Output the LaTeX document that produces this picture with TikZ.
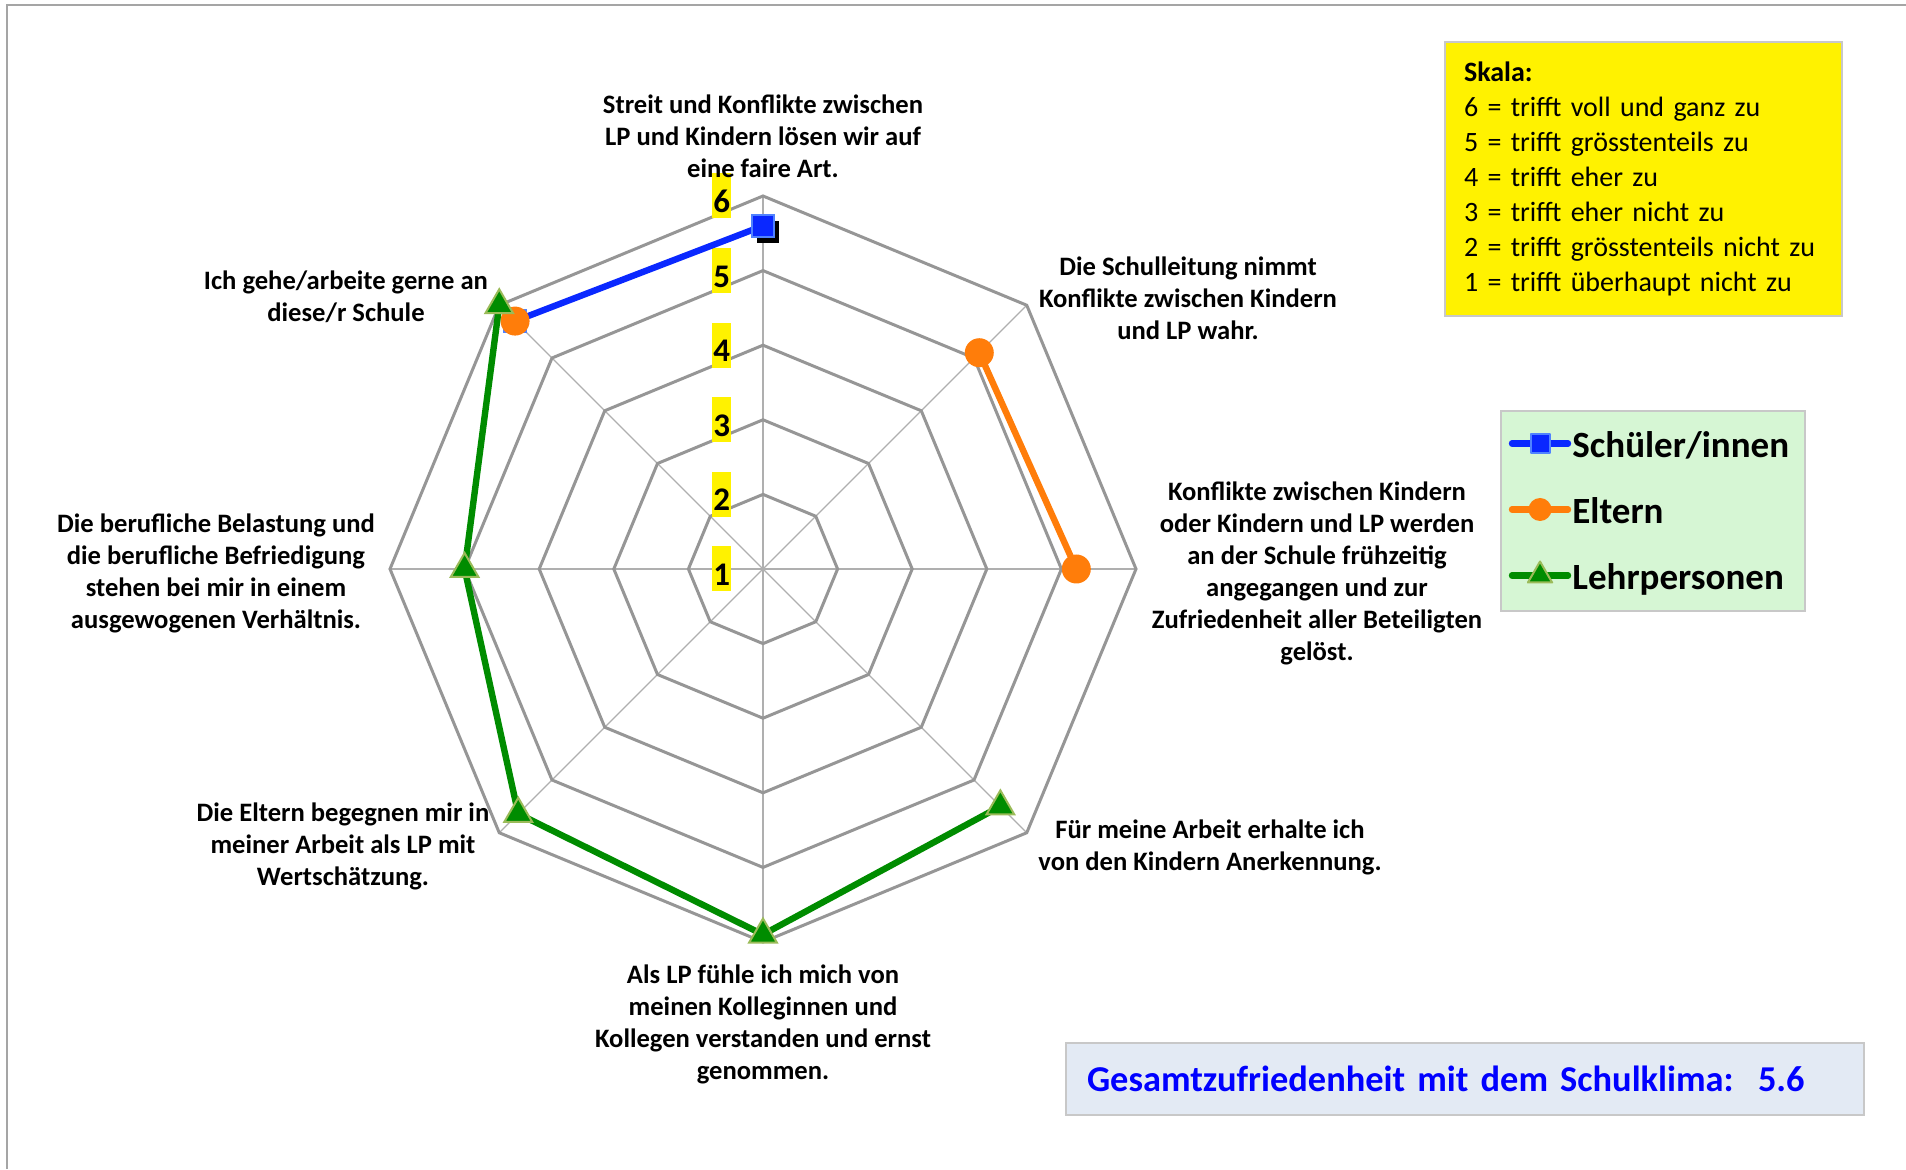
\documentclass[tikz,border=0pt]{standalone}
\usepackage{fontspec}
\setmainfont{Carlito}
\usetikzlibrary{shapes.geometric}

\definecolor{gridgray}{RGB}{150,150,150}
\definecolor{spokegray}{RGB}{175,175,175}
\definecolor{framegray}{RGB}{165,165,165}
\definecolor{sbblue}{RGB}{10,40,255}
\definecolor{sbblueedge}{RGB}{80,130,255}
\definecolor{elorange}{RGB}{255,125,10}
\definecolor{lpgreen}{RGB}{0,140,0}
\definecolor{lpgreenedge}{RGB}{155,187,89}
\definecolor{legendgreen}{RGB}{214,246,212}
\definecolor{boxedge}{RGB}{200,200,200}
\definecolor{gesamtfill}{RGB}{227,234,244}
\newcommand{\ringstep}{74.6}

\begin{document}
\begin{tikzpicture}
    [
        x=0.5pt, y=0.5pt,
        ring/.style={draw=gridgray, line width=1.5pt, line join=miter},
        spoke/.style={draw=spokegray, line width=0.6pt},
        axis_label/.style={font=\fontsize{13.3}{16}\selectfont\bfseries, align=center, inner sep=0pt},
        tick_label/.style={fill=yellow, font=\fontsize{16.5}{16.5}\selectfont\bfseries, inner sep=0pt, text height=16.5pt, text depth=0pt, minimum width=9.5pt, minimum height=22.5pt},
        blue_line/.style={draw=sbblue, line width=3.2pt, line join=round},
        orange_line/.style={draw=elorange, line width=3.2pt, line join=round},
        green_line/.style={draw=lpgreen, line width=3.2pt, line join=round},
        blue_mark/.style={rectangle, fill=sbblue, draw=sbblueedge, line width=1pt, minimum size=11pt, inner sep=0pt},
        shadow_mark/.style={rectangle, fill=black, minimum size=11pt, inner sep=0pt},
        orange_mark/.style={circle, fill=elorange, minimum size=14.5pt, inner sep=0pt},
        green_mark/.style={regular polygon, regular polygon sides=3, fill=lpgreen, draw=lpgreenedge, line width=1pt, minimum size=16pt, inner sep=0pt},
        legend_text/.style={font=\fontsize{18.5}{18.5}\selectfont\bfseries, anchor=base west, inner sep=0pt},
        skala_box/.style={fill=yellow, draw=boxedge, line width=1pt, minimum width=198.5pt, minimum height=137pt, text width=179.5pt, inner xsep=9.5pt, align=left, font=\fontsize{14}{17.5}\selectfont},
        legend_box/.style={fill=legendgreen, draw=boxedge, line width=1pt, minimum width=152pt, minimum height=100pt},
        gesamt_box/.style={fill=gesamtfill, draw=boxedge, line width=1pt, minimum width=399pt, minimum height=36pt, text width=378pt, inner xsep=10.5pt, align=left, text=blue, font=\fontsize{18.2}{18.2}\selectfont\bfseries},
    ]
        \useasboundingbox (0,0) rectangle (1906,1169);
        \draw[framegray, line width=1pt] (7,0) -- (7,1164) -- (1906,1164);

        % radar grid
        \begin{scope}[shift={(763,600)}]
            \foreach \a in {0,45,...,315}
                \draw[spoke] (0,0) -- (\a:{5*\ringstep});
            \foreach \k in {1,...,5}
                \draw[ring] (0:{\k*\ringstep}) \foreach \a in {45,90,...,315} {-- (\a:{\k*\ringstep})} -- cycle;
            \foreach \k in {1,...,6}
                \node[tick_label] (tick\k) at (-41.3,{(\k-1)*\ringstep}) {\k};

            % data points
            \coordinate (sA) at (90:{4.6*\ringstep});
            \coordinate (sH) at (135:{4.7*\ringstep});
            \coordinate (eH) at (135:{4.7*\ringstep});
            \coordinate (eB) at (45:{4.1*\ringstep});
            \coordinate (eC) at (0:{4.2*\ringstep});
            \coordinate (lH) at (135:{5.0*\ringstep});
            \coordinate (lG) at (180:{4.0*\ringstep});
            \coordinate (lF) at (225:{4.64*\ringstep});
            \coordinate (lE) at (270:{4.9*\ringstep});
            \coordinate (lD) at (315:{4.5*\ringstep});

            \draw[blue_line] (sA) -- (sH);
            \node[shadow_mark, xshift=2.5pt, yshift=-3pt] (sAshadow) at (sA) {};
            \node[blue_mark] (sAmark) at (sA) {};
            \node[blue_mark] (sHmark) at (sH) {};

            \draw[orange_line] (eB) -- (eC);
            \node[orange_mark] (eHmark) at (eH) {};
            \node[orange_mark] (eBmark) at (eB) {};
            \node[orange_mark] (eCmark) at (eC) {};

            \draw[green_line] (lH) -- (lG) -- (lF) -- (lE) -- (lD);
            \foreach \p in {lH,lG,lF,lE,lD}
                \node[green_mark] (\p mark) at (\p) {};
        \end{scope}

        % axis labels
        \node[axis_label] (lblA) at (763,1033) {Streit und Konflikte zwischen\\LP und Kindern lösen wir auf\\eine faire Art.};
        \node[axis_label] (lblB) at (1188,871) {Die Schulleitung nimmt\\Konflikte zwischen Kindern\\und LP wahr.};
        \node[axis_label] (lblC) at (1317,596) {Konflikte zwischen Kindern\\oder Kindern und LP werden\\an der Schule frühzeitig\\angegangen und zur\\Zufriedenheit aller Beteiligten\\gelöst.};
        \node[axis_label] (lblD) at (1210,322) {Für meine Arbeit erhalte ich\\von den Kindern Anerkennung.};
        \node[axis_label] (lblE) at (763,144.5) {Als LP fühle ich mich von\\meinen Kolleginnen und\\Kollegen verstanden und ernst\\genommen.};
        \node[axis_label] (lblF) at (343,323) {Die Eltern begegnen mir in\\meiner Arbeit als LP mit\\Wertschätzung.};
        \node[axis_label] (lblG) at (216,596) {Die berufliche Belastung und\\die berufliche Befriedigung\\stehen bei mir in einem\\ausgewogenen Verhältnis.};
        \node[axis_label] (lblH) at (346,872) {Ich gehe/arbeite gerne an\\diese/r Schule};

        % scale
        \node[skala_box, anchor=north west] (skala) at (1444,1128) {\textbf{Skala:}\\6 = trifft voll und ganz zu\\5 = trifft grösstenteils zu\\4 = trifft eher zu\\3 = trifft eher nicht zu\\2 = trifft grösstenteils nicht zu\\1 = trifft überhaupt nicht zu};

        % legend
        \node[legend_box, anchor=north west] (legend) at (1500,759) {};
        \coordinate (lgS1) at (1512,725.5);
        \coordinate (lgS2) at (1568,725.5);
        \coordinate (lgE1) at (1512,659.5);
        \coordinate (lgE2) at (1568,659.5);
        \coordinate (lgL1) at (1512,593.5);
        \coordinate (lgL2) at (1568,593.5);
        \draw[blue_line, line cap=round] (lgS1) -- node[blue_mark, minimum size=9.5pt] (lgSmark) {} (lgS2);
        \draw[orange_line, line cap=round] (lgE1) -- node[orange_mark, minimum size=11.5pt] (lgEmark) {} (lgE2);
        \draw[green_line, line cap=round] (lgL1) -- node[green_mark, minimum size=14pt] (lgLmark) {} (lgL2);
        \node[legend_text] (lgStext) at (1572,711) {Schüler/innen};
        \node[legend_text] (lgEtext) at (1572,645) {Eltern};
        \node[legend_text] (lgLtext) at (1572,579) {Lehrpersonen};

        % overall
        \node[gesamt_box, anchor=north west] (gesamt) at (1065,127) {Gesamtzufriedenheit mit dem Schulklima:\ \ 5.6};
    \end{tikzpicture}
\end{document}
